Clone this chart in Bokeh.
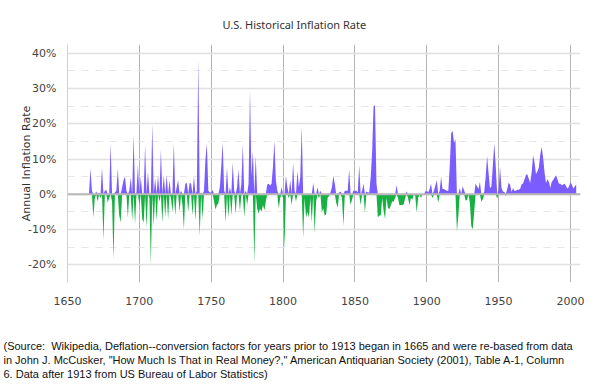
from bokeh.plotting import figure
from bokeh.models import ColumnDataSource, FixedTicker, PrintfTickFormatter, Title, Span
from bokeh.embed import file_html
from bokeh.resources import INLINE

# ---------------- data (annual inflation, %) ----------------
years = list(range(1665, 2005))

rate_1665_1699 = [0.5, 7.3, 1.0, -6.6, -1.0,
                  0.8, -2.0, 0.5, -1.0, 7.6, -13.0, 1.0, 1.2, -2.3, -1.0,
                  14.5, -2.0, -18.5, 0.5, 1.0, 7.3, -6.0, -8.0, 2.0, 4.0,
                  5.0, 1.0, -6.6, 1.0, 4.8, -7.5, 17.0, -8.5, 0.5, 8.5]
rate_1700_1749 = [-3.0, 5.0, -7.0, -8.0, 14.0, -9.5, 6.5, -1.0, -20.0, 20.0,
                  -9.0, 4.5, -7.5, 5.5, -2.0, 12.7, -8.0, 5.5, -6.5, 5.5,
                  -7.0, 4.0, -1.0, -5.0, 14.7, -6.0, 2.0, 4.0, -5.0, 1.0,
                  -3.0, -10.0, 3.0, 3.3, -5.0, 3.3, 3.0, -6.0, 5.2, -7.5,
                  1.0, 38.4, -11.8, 0.5, -7.0, 1.0, 10.0, 14.4, 1.0, 0.5]
rate_1750_1799 = [0.5, 1.2, -2.0, -4.3, -3.0, -2.5, 2.0, 8.0, 14.7, 1.0,
                  -8.0, 7.6, -6.6, 2.0, -6.0, 9.0, 1.0, -5.6, 2.0, 7.1,
                  -4.7, 3.0, 14.2, -6.6, 1.0, -3.0, 3.0, 29.8, 5.0, 12.3,
                  -19.4, 10.9, -4.0, -5.5, -4.0, -5.0, -3.0, -4.5, -2.0, 2.8,
                  3.0, 2.5, 3.0, 8.0, 15.2, 4.0, 1.0, -4.0, -1.0, 2.0]
rate_1800_1849 = [-1.0, -15.6, 5.2, 2.0, -1.0, 4.0, -3.0, 9.0, 1.0, -2.0,
                  6.6, 2.0, 5.0, 19.4, -12.3, -1.0, -6.6, -5.0, -6.6, -1.0,
                  -8.0, 3.3, -10.9, -2.0, 2.0, -1.0, 1.0, -5.0, -4.0, -6.0,
                  -5.7, -1.0, -0.5, 0.5, 2.0, 5.2, 3.0, -2.4, -3.8, 0.5,
                  0.8, -1.0, -9.0, 1.0, 1.0, 1.0, 7.1, -3.0, -1.5, 1.0]
rate_1850_1913 = [1.0, 1.0, 0.5, 8.3, -3.0, 1.0, 3.0, -5.2, 0.8, 0.5,
                  0.5, 5.0, 12.0, 25.0, 25.3, 3.0, -6.6, -6.0, -6.0, -1.0,
                  -4.7, -7.0, -1.0, -3.8, -4.2, -3.0, -2.0, -2.0, -1.0, 2.6,
                  -1.0, -3.0, -3.0, -3.0, -2.8, -1.0, 0.8, -1.0, -3.0, -1.0,
                  -1.5, 0.0, -0.5, -5.2, -1.0, 0.0, -1.0, 0.0, 0.0, 0.8,
                  1.0, 0.5, 1.5, 3.0, -1.0, 1.0, 2.5, 4.0, -2.4, 1.0,
                  5.0, 1.5, 1.5, 1.2]
rate_1914_2004 = [1.0, 1.0, 7.9, 17.4, 18.0, 14.6, 15.6, -10.5, -6.1, 1.8,
                  0.0, 2.3, 1.1, -1.7, -1.7, 0.0, -2.3, -9.0, -9.9, -5.1,
                  3.1, 2.2, 1.5, 3.6, -2.1, -1.4, 0.7, 5.0, 10.9, 6.1,
                  1.7, 2.3, 8.3, 14.4, 8.1, -1.2, 1.3, 7.9, 1.9, 0.8,
                  0.7, -0.4, 1.5, 3.3, 2.8, 0.7, 1.7, 1.0, 1.0, 1.3,
                  1.3, 1.6, 2.9, 3.1, 4.2, 5.5, 5.7, 4.4, 3.2, 6.2,
                  11.0, 9.1, 5.8, 6.5, 7.6, 11.3, 13.5, 10.3, 6.2, 3.2,
                  4.3, 3.6, 1.9, 3.6, 4.1, 4.8, 5.4, 4.2, 3.0, 3.0,
                  2.6, 2.8, 3.0, 2.3, 1.6, 2.2, 3.4, 2.8, 1.6, 2.3, 2.7]

rates = (rate_1665_1699 + rate_1700_1749 + rate_1750_1799 +
         rate_1800_1849 + rate_1850_1913 + rate_1914_2004)
assert len(rates) == len(years), (len(rates), len(years))

y_ticks = [-20, -10, 0, 10, 20, 30, 40]
y_minor = [-15, -5, 5, 15, 25, 35]
x_ticks = [1650, 1700, 1750, 1800, 1850, 1900, 1950, 2000]

title_text = "U.S. Historical Inflation Rate"
y_label = "Annual Inflation Rate"
note_lines = [
    "(Source:\u00a0 Wikipedia, Deflation--conversion factors for years prior to 1913 began in 1665 and were re-based from data",
    "in John J. McCusker, \"How Much Is That in Real Money?,\" American Antiquarian Society (2001), Table A-1, Column",
    "6. Data after 1913 from US Bureau of Labor Statistics)",
]

# ---------------- figure ----------------
pos = [max(r, 0) for r in rates]
neg = [min(r, 0) for r in rates]
src = ColumnDataSource(dict(year=years, pos=pos, neg=neg, zero=[0] * len(years)))

p = figure(width=592, height=387, output_backend="svg", toolbar_location=None,
           x_range=(1650, 2007), y_range=(-25, 42.5),
           min_border_left=67, min_border_right=12, min_border_top=44, min_border_bottom=105)
p.outline_line_color = None
p.background_fill_color = "white"
p.border_fill_color = "white"

p.title.text = title_text
p.title.align = "left"
p.title.offset = 155
p.title.standoff = 25
p.title.text_font = "Noto Sans"
p.title.text_font_size = "11px"
p.title.text_font_style = "normal"
p.title.text_color = "#333333"

# grids
p.ygrid.ticker = FixedTicker(ticks=y_ticks, minor_ticks=y_minor)
p.ygrid.grid_line_color = "#e0e0e0"
p.ygrid.grid_line_width = 1.5
p.ygrid.minor_grid_line_color = "#e6e6e6"
p.ygrid.minor_grid_line_dash = "7 7"
p.xgrid.ticker = FixedTicker(ticks=x_ticks[1:])
p.xgrid.grid_line_color = "#b4b4b4"
p.xgrid.grid_line_width = 1

# areas
p.varea(x="year", y1="zero", y2="pos", source=src, fill_color="#7b5cff")
p.varea(x="year", y1="zero", y2="neg", source=src, fill_color="#16b142")

p.add_layout(Span(location=0, dimension="width", line_color="#b8b8b8", line_width=2))

# axes
p.yaxis.ticker = FixedTicker(ticks=y_ticks)
p.yaxis.formatter = PrintfTickFormatter(format="%d%%")
p.yaxis.major_tick_line_color = None
p.yaxis.minor_tick_line_color = None
p.yaxis.axis_line_color = "#d0d0d0"
p.yaxis.major_label_standoff = 5
p.yaxis.major_label_text_font = "DejaVu Sans"
p.yaxis.major_label_text_font_size = "11px"
p.yaxis.major_label_text_color = "#444444"
p.yaxis.axis_label = y_label
p.yaxis.axis_label_standoff = -8
p.yaxis.axis_label_text_font = "DejaVu Sans"
p.yaxis.axis_label_text_font_size = "11px"
p.yaxis.axis_label_text_font_style = "normal"
p.yaxis.axis_label_text_color = "#333333"

p.xaxis.ticker = FixedTicker(ticks=x_ticks)
p.xaxis.formatter = PrintfTickFormatter(format="%d")
p.xaxis.axis_line_color = None
p.xaxis.major_tick_line_color = None
p.xaxis.minor_tick_line_color = None
p.xaxis.major_label_standoff = 8
p.xaxis.major_label_text_font = "DejaVu Sans"
p.xaxis.major_label_text_font_size = "11px"
p.xaxis.major_label_text_color = "#444444"

# spacer between the axis and the source note
p.add_layout(Title(text=" ", text_font_size="1px", standoff=27), "below")
for line in note_lines:
    t = Title(text=line, align="left", offset=-64, standoff=0,
              text_font="Liberation Sans", text_font_size="11px",
              text_font_style="normal", text_color="#111111")
    p.add_layout(t, "below")

open("out.html", "w").write(file_html(p, INLINE))
